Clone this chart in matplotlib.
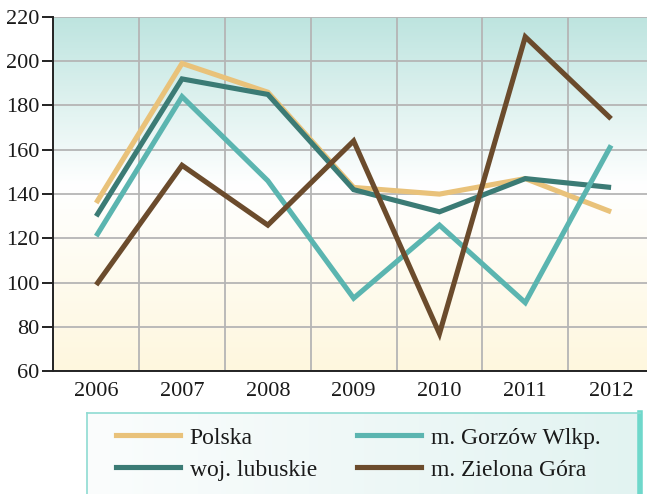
import numpy as np
import matplotlib.pyplot as plt
from matplotlib.colors import LinearSegmentedColormap
from matplotlib.lines import Line2D

years = ["2006", "2007", "2008", "2009", "2010", "2011", "2012"]
polska = [136, 199, 186, 143, 140, 147, 132]
lubuskie = [130, 192, 185, 142, 132, 147, 143]
gorzow = [121, 184, 146, 93, 126, 91, 162]
zielona = [99, 153, 126, 164, 77, 211, 174]

series = [
	("Polska", polska, "#e9c27a"),
	("woj. lubuskie", lubuskie, "#3b7b75"),
	("m. Gorzów Wlkp.", gorzow, "#5bb5b0"),
	("m. Zielona Góra", zielona, "#6b4b2c"),
]

plt.rcParams["font.family"] = ["Liberation Serif", "DejaVu Serif"]

W, H = 647, 494
fig = plt.figure(figsize=(W / 100, H / 100), dpi=100)

# main plot area, the right edge runs past the picture
left, right, top, bottom = 53.3, 654, 16.9, 371.3
ax = fig.add_axes([left / W, 1 - bottom / H, (right - left) / W, (bottom - top) / H])

x = np.arange(len(years))
ax.set_xlim(-0.5, len(years) - 0.5)
ax.set_ylim(60, 220)

# background gradient: teal at top, white in the middle, cream at bottom
bg = LinearSegmentedColormap.from_list(
	"bg", [(0.0, "#fef7de"), (0.52, "#ffffff"), (1.0, "#bde4df")]
)
grad = np.linspace(0, 1, 256).reshape(-1, 1)
ax.imshow(grad, extent=(-0.5, len(years) - 0.5, 60, 220), origin="lower",
	aspect="auto", cmap=bg, zorder=0)

for label, values, color in series:
	ax.plot(x, values, color=color, lw=3.7, solid_joinstyle="miter",
		solid_capstyle="butt", label=label, zorder=3)

ax.set_yticks(np.arange(60, 221, 20))
ax.set_xticks(x)
ax.set_xticklabels(years)
ax.set_xticks(x[:-1] + 0.5, minor=True)
ax.set_axisbelow(True)
ax.grid(axis="y", which="major", color="#b5b5b5", lw=1.3)
ax.grid(axis="x", which="minor", color="#b5b5b5", lw=1.3)

ax.tick_params(axis="y", direction="out", length=8, width=1.4, color="#222222",
	labelsize=16, pad=2)
ax.tick_params(axis="x", which="both", length=0, labelsize=16, pad=8)
for lab in ax.get_xticklabels() + ax.get_yticklabels():
	lab.set_color("#1a1a1a")

for side in ["top", "right"]:
	ax.spines[side].set_visible(False)
for side in ["left", "bottom"]:
	ax.spines[side].set_color("#222222")
	ax.spines[side].set_linewidth(1.4)
	ax.spines[side].set_zorder(4)

# legend panel
lx0, lx1, ly0 = 86.7, 640, 413
lax = fig.add_axes([lx0 / W, 0, (lx1 - lx0) / W, (H - ly0) / H])
lbg = LinearSegmentedColormap.from_list("lbg", ["#fbfdfd", "#e2f3f1"])
lax.imshow(np.linspace(0, 1, 256).reshape(1, -1), extent=(0, 1, 0, 1),
	aspect="auto", cmap=lbg)
lax.set_xticks([])
lax.set_yticks([])
for side in lax.spines:
	lax.spines[side].set_color("#8edbd2")
	lax.spines[side].set_linewidth(1.2)
lax.spines["right"].set_linewidth(4)
lax.spines["right"].set_color("#6fd8cb")
lax.spines["bottom"].set_visible(False)

handles = [Line2D([], [], color=c, lw=3.7) for _, _, c in series]
labels = [s[0] for s in series]
leg = fig.legend(handles, labels, ncol=2, loc="upper left",
	bbox_to_anchor=(116 / W, 1 - 427 / H), frameon=False, fontsize=17,
	handlelength=2.7, handletextpad=0.42, columnspacing=1.7,
	labelspacing=0.45, borderpad=0, borderaxespad=0)
for t in leg.get_texts():
	t.set_color("#1a1a1a")

fig.savefig("out.png", dpi=100)
